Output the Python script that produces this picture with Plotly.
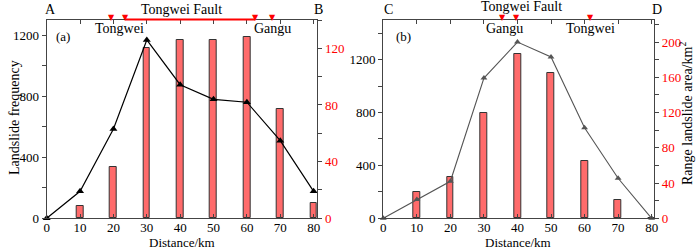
import plotly.graph_objects as go

distance = [0, 10, 20, 30, 40, 50, 60, 70, 80]
freq_a = [0, 177, 585, 1169, 876, 780, 761, 509, 177]
area_a = [0, 9, 36, 120, 126, 126, 128, 77, 11]
freq_b = [0, 142, 280, 1061, 1333, 1220, 685, 303, 0]
area_b = [0, 30, 47, 119, 186, 165, 65, 21, 0]

fault_a = [19.5, 23.5, 62.5, 67.6]
fault_a_line = [23.5, 62.5]
fault_b = [35.4, 39.7, 61.8]
towns_a = [("Tongwei", 21.9), ("Gangu", 67.7)]
towns_b = [("Gangu", 36.1), ("Tongwei", 61.8)]

FONT = "Liberation Serif"
AX = "#444444"
BAR = "#FF6B6B"

W, H = 700, 250
def px(v):
    return v / W
def py(v):
    return 1 - v / H

ydom = [py(218.3), py(20)]
xa = [px(46.7), px(317.3)]
xb = [px(383.3), px(654.0)]

fig = go.Figure()

# panel a
fig.add_trace(go.Bar(x=distance, y=area_a, width=2, marker=dict(color=BAR, line=dict(color="#333", width=1)),
                     xaxis="x", yaxis="y", showlegend=False))
fig.add_trace(go.Scatter(x=distance, y=freq_a, mode="lines+markers",
                         line=dict(color="black", width=1.2),
                         marker=dict(symbol="triangle-up", size=7, color="black"),
                         xaxis="x", yaxis="y2", showlegend=False, cliponaxis=False))
# panel b
fig.add_trace(go.Bar(x=distance, y=area_b, width=2, marker=dict(color=BAR, line=dict(color="#333", width=1)),
                     xaxis="x2", yaxis="y3", showlegend=False))
fig.add_trace(go.Scatter(x=distance, y=freq_b, mode="lines+markers",
                         line=dict(color="#555555", width=1.1),
                         marker=dict(symbol="triangle-up", size=6, color="#555555"),
                         xaxis="x2", yaxis="y4", showlegend=False, cliponaxis=False))

tickfont = dict(family=FONT, size=13, color="black")
redfont = dict(family=FONT, size=13, color="red")

def xax(dom, anchor, rng):
    return dict(domain=dom, anchor=anchor, range=rng, dtick=10, tick0=0,
                showline=True, linecolor=AX, linewidth=1.2, mirror="ticks",
                ticks="inside", ticklen=4, tickcolor=AX, showgrid=False, zeroline=False,
                tickfont=tickfont, automargin=False, ticklabelstandoff=-3)

def yax(anchor, rng, dtick, minor, side, font, overlay=None):
    d = dict(domain=ydom, anchor=anchor, range=rng, dtick=dtick, tick0=0, side=side,
             showline=True, linecolor=AX, linewidth=1.2,
             ticks="outside", ticklen=4, tickcolor=AX, showgrid=False, zeroline=False,
             tickfont=font, automargin=False,
             minor=dict(dtick=minor, ticks="outside", ticklen=4, tickcolor=AX, showgrid=False))
    if overlay:
        d["overlaying"] = overlay
    return d

fig.update_layout(
    width=W, height=H, margin=dict(l=0, r=0, t=0, b=0),
    paper_bgcolor="white", plot_bgcolor="white",
    font=dict(family=FONT, size=13, color="black"),
    bargap=0,
    xaxis=xax(xa, "y", [0, 81.1]),
    xaxis2=xax(xb, "y3", [0, 80.7]),
    yaxis=yax("x", [0, 140], 40, 20, "right", redfont),
    yaxis2=yax("x", [0, 1300], 400, 200, "left", tickfont, overlay="y"),
    yaxis3=yax("x2", [0, 225], 40, 20, "right", redfont),
    yaxis4=yax("x2", [0, 1500], 400, 200, "left", tickfont, overlay="y3"),
)

ann = []
def text(x, y, s, xref="paper", size=13, color="black", angle=0, fam=FONT):
    ann.append(dict(x=x, y=y, xref=xref, yref="paper", text=s, showarrow=False,
                    font=dict(family=fam, size=size, color=color), textangle=angle,
                    xanchor="center", yanchor="middle", borderpad=0))

# corner letters
text(px(50), py(9), "A", size=14)
text(px(318), py(9), "B", size=14)
text(px(388), py(9), "C", size=14)
text(px(657), py(9), "D", size=14)
# panel labels
text(px(63), py(36), "(a)", size=13)
text(px(403), py(36), "(b)", size=13)
# axis titles
text(px(14), py(118), "Landslide frequency", size=14, angle=-90)
text(px(686), py(114), "Range landslide area/km<sup>2</sup>", size=14, angle=-90)
text(px(182), py(242.5), "Distance/km", size=13)
text(px(518), py(242.5), "Distance/km", size=13)
# fault labels
text(px(181), py(9), "Tongwei Fault", size=14)
text(px(521), py(6.5), "Tongwei Fault", size=14)
for name, xv in towns_a:
    text(xv, py(29), name, xref="x", size=14)
for name, xv in towns_b:
    text(xv, py(29), name, xref="x2", size=14)
for xv in fault_a:
    text(xv, py(17), "▼", xref="x", size=8, color="red", fam="DejaVu Sans")
for xv in fault_b:
    text(xv, py(17.5), "▼", xref="x2", size=8, color="red", fam="DejaVu Sans")

fig.update_layout(annotations=ann)
fig.add_shape(type="line", xref="x", yref="paper", x0=fault_a_line[0], x1=fault_a_line[1],
              y0=py(19.5), y1=py(19.5), line=dict(color="red", width=2))

fig.write_html("out.html", config={"displayModeBar": False},
               post_script="document.body.style.margin='0';document.body.style.overflow='hidden';")
